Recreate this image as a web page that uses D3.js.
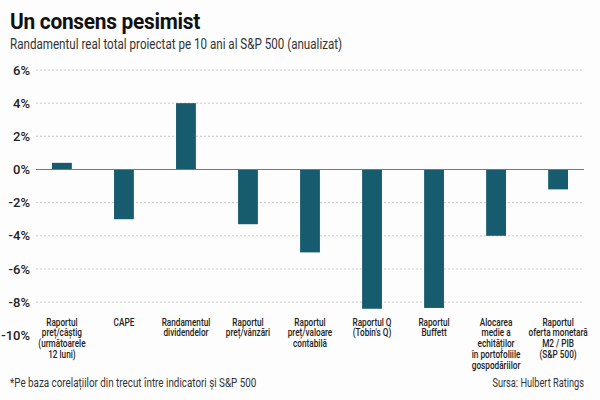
<!DOCTYPE html>
<html>
<head>
<meta charset="utf-8">
<script src="https://cdn.jsdelivr.net/npm/d3@7"></script>
<style>
  body { margin: 0; background: #fdfdfd; }
  svg { display: block; }
  text { font-family: Roboto, "Noto Sans", sans-serif; }
</style>
</head>
<body>
<script>
// data
const categories = [
    ['Raportul', 'preț/câștig', '(următoarele', '12 luni)'],
    ['CAPE'],
    ['Randamentul', 'dividendelor'],
    ['Raportul', 'preț/vânzări'],
    ['Raportul', 'preț/valoare', 'contabilă'],
    ['Raportul Q', '(Tobin\'s Q)'],
    ['Raportul', 'Buffett'],
    ['Alocarea', 'medie a', 'echităților', 'în portofoliile', 'gospodăriilor'],
    ['Raportul', 'oferta monetară', 'M2 / PIB', '(S&P 500)']
];
const values = [0.4, -3.0, 4.0, -3.3, -5.0, -8.4, -8.35, -4.0, -1.2];
const yTicks = [6, 4, 2, 0, -2, -4, -6, -8, -10];

const title = 'Un consens pesimist';
const subtitle = 'Randamentul real total proiectat pe 10 ani al S&P 500 (anualizat)';
const note = '*Pe baza corelațiilor din trecut între indicatori și S&P 500';
const source = 'Sursa: Hulbert Ratings';

let width = 600, height = 400;
let svg = d3.select('body').append('svg').attr('width', width).attr('height', height);

let ids = d3.range(values.length);
let x = d3.scaleBand()
    .domain(ids)
    .range([52, 568])
    .paddingInner(0.68)
    .paddingOuter(0);

let y = d3.scaleLinear()
    .domain([-10, 6])
    .range([335.3, 70]);

// titles (no condensed face installed, so the text is squeezed with scale)
svg.append('text')
    .attr('transform', 'translate(10,29) scale(0.95,1)')
    .style('font-weight', 700)
    .style('font-size', '22px')
    .style('letter-spacing', '-0.3px')
    .attr('fill', '#111')
    .text(title);

svg.append('text')
    .attr('transform', 'translate(10,49) scale(0.83,1)')
    .style('font-size', '14px')
    .attr('fill', '#333')
    .text(subtitle);

// grid
svg.append('g')
    .selectAll('line')
    .data(yTicks.filter(function(d){ return d !== 0 && d !== -10; }))
    .enter().append('line')
    .attr('x1', 36).attr('x2', 584)
    .attr('y1', function(d){ return y(d); })
    .attr('y2', function(d){ return y(d); })
    .attr('stroke', '#bbb')
    .attr('stroke-width', 0.8)
    .attr('stroke-dasharray', '2,2');

// y labels
svg.append('g')
    .selectAll('text')
    .data(yTicks)
    .enter().append('text')
    .attr('x', 30)
    .attr('y', function(d){ return y(d); })
    .attr('dy', '0.35em')
    .attr('text-anchor', 'end')
    .style('font-weight', 500)
    .style('font-size', '13px')
    .attr('fill', '#222')
    .text(function(d){ return d + '%'; });

// bars
svg.append('g')
    .selectAll('rect')
    .data(values)
    .enter().append('rect')
    .attr('x', function(d, i){ return x(i); })
    .attr('width', x.bandwidth())
    .attr('y', function(d){ return y(Math.max(0, d)); })
    .attr('height', function(d){ return Math.abs(y(d) - y(0)); })
    .attr('fill', '#175c6e');

// zero line
svg.append('line')
    .attr('x1', 36).attr('x2', 584)
    .attr('y1', y(0)).attr('y2', y(0))
    .attr('stroke', '#777')
    .attr('stroke-width', 1);

// category labels
let cat = svg.append('g')
    .selectAll('text')
    .data(categories)
    .enter().append('text')
    .attr('text-anchor', 'middle')
    .attr('transform', function(d, i){
        return 'translate(' + (x(i) + x.bandwidth() / 2) + ',325.7) scale(0.76,1)';
    })
    .style('font-size', '10.8px')
    .style('font-weight', 500)
    .attr('fill', '#222');

cat.selectAll('tspan')
    .data(function(d){ return d; })
    .enter().append('tspan')
    .attr('x', 0)
    .attr('y', function(d, i){ return i * 10.8; })
    .text(function(d){ return d; });

// footer
svg.append('text')
    .attr('transform', 'translate(10,387) scale(0.82,1)')
    .style('font-size', '12px')
    .attr('fill', '#333')
    .text(note);

svg.append('text')
    .attr('transform', 'translate(584,387) scale(0.77,1)')
    .attr('text-anchor', 'end')
    .style('font-size', '12px')
    .attr('fill', '#333')
    .text(source);
</script>
</body>
</html>
